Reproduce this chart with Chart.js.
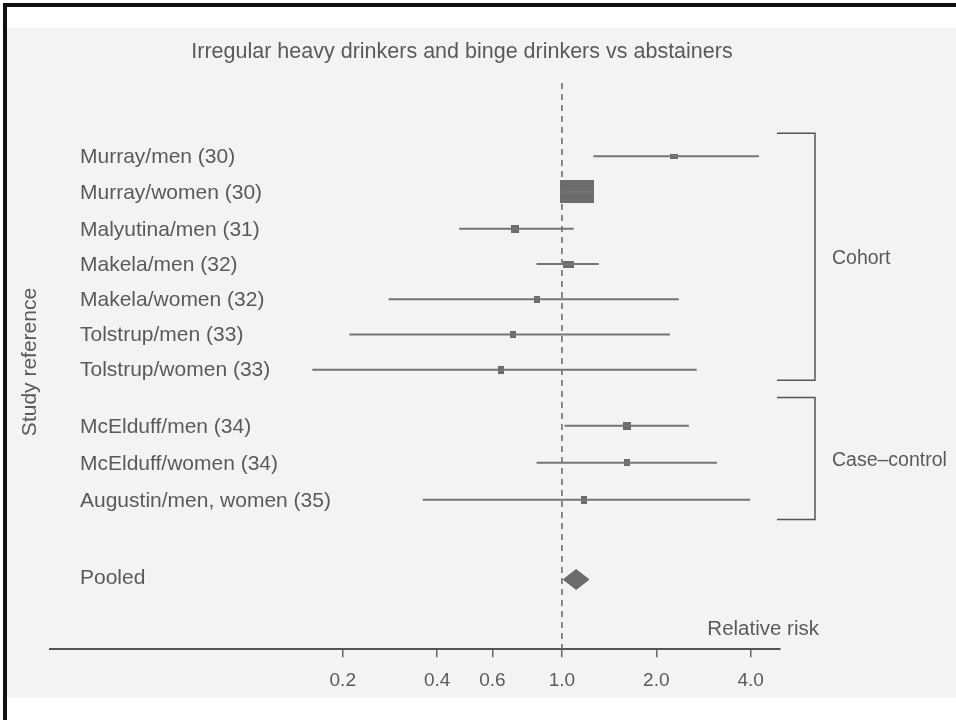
<!DOCTYPE html>
<html>
<head>
<meta charset="utf-8">
<script src="https://cdn.jsdelivr.net/npm/chart.js@4"></script>
<style>
  body { margin: 0; background: #fff; }
  #wrap { width: 956px; height: 720px; position: relative; }
</style>
</head>
<body>
<div id="wrap"><canvas id="forestChart"></canvas></div>
<script>
// studies, top to bottom
const studies = [
    'Murray/men (30)', 'Murray/women (30)', 'Malyutina/men (31)', 'Makela/men (32)',
    'Makela/women (32)', 'Tolstrup/men (33)', 'Tolstrup/women (33)',
    'McElduff/men (34)', 'McElduff/women (34)', 'Augustin/men, women (35)'
];
const relRisk = [2.28, 1.12, 0.71, 1.05, 0.83, 0.70, 0.64, 1.61, 1.61, 1.18];
const ciLow   = [1.26, 1.00, 0.47, 0.83, 0.28, 0.21, 0.16, 1.02, 0.83, 0.36];
const ciHigh  = [4.25, 1.25, 1.09, 1.31, 2.36, 2.21, 2.69, 2.54, 3.12, 3.98];

const pooledLabel = 'Pooled';
const pooledRR = 1.11;
const pooledLow = 1.01;
const pooledHigh = 1.22;

const xTicks = [0.2, 0.4, 0.6, 1.0, 2.0, 4.0];

// layout: row positions on the y scale (cohort, case-control, pooled)
const rowPos = [0, 1, 2.04, 3.03, 4.02, 5.01, 6, 7.58, 8.62, 9.66];
const pooledPos = 11.9;
const diamondHalf = 0.28;
// marker box sizes (px) w,h
const boxSize = [[8, 5], [34, 23], [8, 8], [11, 7], [6, 7], [6, 7], [6, 8], [8, 8], [6, 7], [6, 8]];

const ink = '#5a5a5a';
const lineCol = '#747474';
const boxCol = '#6c6c6c';
const fontFam = '"Liberation Sans", Arial, Helvetica, sans-serif';

function makeBox(w, h) {
    const c = document.createElement('canvas');
    c.width = w; c.height = h;
    const g = c.getContext('2d');
    g.fillStyle = boxCol;
    g.fillRect(0, 0, w, h);
    return c;
}

const ciSets = studies.map((s, i) => ({
    label: s,
    data: [{ x: ciLow[i], y: rowPos[i] }, { x: ciHigh[i], y: rowPos[i] }],
    showLine: true,
    borderColor: lineCol,
    borderWidth: 2,
    pointRadius: 0
}));

const markerSet = {
    label: 'RR',
    data: studies.map((s, i) => ({ x: relRisk[i], y: rowPos[i] })),
    pointStyle: boxSize.map(b => makeBox(b[0], b[1])),
    pointRadius: 3,
    showLine: false
};

const pooledSet = {
    label: pooledLabel,
    data: [
        { x: pooledLow, y: pooledPos },
        { x: pooledRR, y: pooledPos - diamondHalf },
        { x: pooledHigh, y: pooledPos },
        { x: pooledRR, y: pooledPos + diamondHalf },
        { x: pooledLow, y: pooledPos }
    ],
    showLine: true,
    borderColor: boxCol,
    borderWidth: 1,
    backgroundColor: boxCol,
    fill: 'shape',
    pointRadius: 0,
    tension: 0
};

// background scan, frame, reference line, brackets and text
const decor = {
    id: 'decor',
    beforeDraw(chart) {
        const ctx = chart.ctx;
        ctx.save();
        ctx.fillStyle = '#ffffff';
        ctx.fillRect(0, 0, chart.width, chart.height);
        ctx.fillStyle = '#f3f3f3';
        ctx.fillRect(7, 28, chart.width - 7, 670);
        ctx.fillStyle = '#111';
        ctx.fillRect(3, 3, 4, chart.height - 3);
        ctx.fillRect(3, 3, chart.width - 3, 4);
        ctx.restore();
    },
    beforeDatasetsDraw(chart) {
        const ctx = chart.ctx, x = chart.scales.x, a = chart.chartArea;
        const px = x.getPixelForValue(1.0);
        ctx.save();
        ctx.strokeStyle = '#666';
        ctx.lineWidth = 1.5;
        ctx.setLineDash([6, 5]);
        ctx.beginPath();
        ctx.moveTo(px, a.top);
        ctx.lineTo(px, a.bottom);
        ctx.stroke();
        ctx.restore();
    },
    afterDraw(chart) {
        const ctx = chart.ctx, y = chart.scales.y, a = chart.chartArea;
        ctx.save();
        ctx.fillStyle = ink;
        ctx.textBaseline = 'middle';

        ctx.font = '21.5px ' + fontFam;
        ctx.textAlign = 'center';
        ctx.fillText('Irregular heavy drinkers and binge drinkers vs abstainers', 462, 52);

        ctx.font = '21px ' + fontFam;
        ctx.textAlign = 'left';
        studies.forEach((s, i) => ctx.fillText(s, 80, y.getPixelForValue(rowPos[i]) + 1));
        ctx.fillText(pooledLabel, 80, y.getPixelForValue(pooledPos) - 1);

        ctx.font = '20.5px ' + fontFam;
        ctx.textAlign = 'right';
        ctx.fillText('Relative risk', a.right + 39, 629);

        // group brackets
        const bx = a.right + 35, bl = a.right - 3;
        const groups = [
            { name: 'Cohort', top: rowPos[0] - 0.65, bot: rowPos[6] + 0.3 },
            { name: 'Case\u2013control', top: rowPos[7] - 0.8, bot: rowPos[9] + 0.55 }
        ];
        ctx.strokeStyle = '#555';
        ctx.lineWidth = 1.5;
        ctx.font = '19.5px ' + fontFam;
        ctx.textAlign = 'left';
        groups.forEach(g => {
            const t = y.getPixelForValue(g.top), b = y.getPixelForValue(g.bot);
            ctx.beginPath();
            ctx.moveTo(bl, t); ctx.lineTo(bx, t); ctx.lineTo(bx, b); ctx.lineTo(bl, b);
            ctx.stroke();
            ctx.fillText(g.name, bx + 17, (t + b) / 2 + 2);
        });

        ctx.font = '21px ' + fontFam;
        ctx.translate(30, 362);
        ctx.rotate(-Math.PI / 2);
        ctx.textAlign = 'center';
        ctx.fillText('Study reference', 0, 0);
        ctx.restore();
    }
};

new Chart(document.getElementById('forestChart'), {
    type: 'scatter',
    data: { datasets: [...ciSets, markerSet, pooledSet] },
    options: {
        responsive: true,
        maintainAspectRatio: false,
        animation: false,
        layout: { padding: { left: 50, right: 176, top: 83, bottom: 16 } },
        plugins: { legend: { display: false }, tooltip: { enabled: false } },
        scales: {
            x: {
                type: 'logarithmic',
                min: 0.0233,
                max: 4.96,
                afterBuildTicks: s => { s.ticks = xTicks.map(v => ({ value: v })); },
                grid: { drawOnChartArea: false, drawTicks: true, tickLength: 8, color: '#666', lineWidth: 1.5 },
                border: { color: '#555', width: 2 },
                ticks: {
                    color: ink,
                    padding: 12,
                    maxRotation: 0,
                    autoSkip: false,
                    font: { size: 19, family: fontFam },
                    callback: v => Number(v).toFixed(1)
                }
            },
            y: {
                type: 'linear',
                reverse: true,
                min: -2.06,
                max: 13.86,
                display: false
            }
        }
    },
    plugins: [decor]
});
</script>
</body>
</html>
